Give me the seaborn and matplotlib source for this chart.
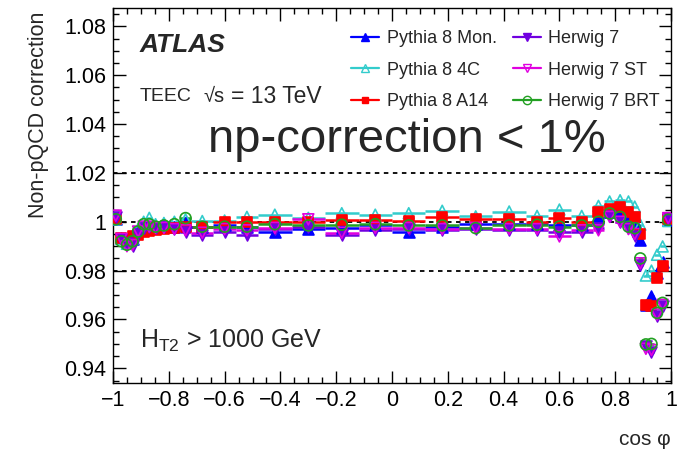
import numpy as np
import pandas as pd
import matplotlib
matplotlib.use("Agg")
import matplotlib.pyplot as plt
import seaborn as sns
from matplotlib.ticker import MultipleLocator, FuncFormatter
from matplotlib.lines import Line2D

# ---- data -------------------------------------------------------------
bin_edges = [-1.0, -0.98, -0.96, -0.94, -0.92, -0.90, -0.88, -0.86, -0.835, -0.80,
             -0.76, -0.72, -0.64, -0.56, -0.48, -0.36, -0.24, -0.12, 0.0,
             0.12, 0.24, 0.36, 0.48, 0.56, 0.64, 0.72, 0.76, 0.80, 0.835,
             0.86, 0.88, 0.90, 0.92, 0.94, 0.96, 0.98, 1.0]

pythia8_mon = [1.001, 0.9935, 0.992, 0.993, 0.9965, 0.997, 0.998, 0.998, 0.9985, 0.998, 1.0,
               0.998, 0.9985, 0.998, 0.996, 0.997, 0.9974, 0.9985, 0.996, 0.998, 0.999, 0.999,
               0.999, 0.9985, 0.9985, 1.0015, 1.004, 1.0042, 1.002, 1.0, 0.9927, 0.966, 0.9698,
               0.979, 0.9834, 1.0008]
pythia8_4c = [1.001, 0.993, 0.991, 0.993, 0.997, 1.000, 1.0016, 0.999, 0.9995, 1.000, 1.001,
              1.0003, 1.0005, 1.002, 1.0029, 1.0016, 1.0035, 1.0029, 1.0035, 1.0045, 1.0022,
              1.0042, 1.0024, 1.005, 1.0024, 1.0065, 1.0083, 1.0088, 1.0083, 1.0062, 0.9988,
              0.978, 0.980, 0.9865, 0.9899, 1.0003]
pythia8_a14 = [1.001, 0.9933, 0.9927, 0.994, 0.9947, 0.996, 0.9963, 0.9967, 0.997, 0.9974, 0.9977,
               0.9977, 0.9997, 0.9997, 1.0001, 0.9997, 1.0008, 1.0008, 1.0005, 1.0019, 1.0012,
               1.0012, 1.0001, 1.0015, 0.9997, 1.0042, 1.0054, 1.0062, 1.0038, 1.0019, 0.995,
               0.966, 0.9655, 0.977, 0.9818, 1.001]
herwig7 = [1.002, 0.993, 0.9915, 0.990, 0.995, 0.9975, 0.998, 0.9975, 0.998, 0.997, 0.996,
           0.9947, 0.996, 0.9947, 0.997, 0.998, 0.9947, 0.9967, 0.997, 0.9965, 0.997, 0.9967,
           0.9967, 0.996, 0.996, 0.9975, 1.0022, 1.0001, 0.9974, 0.994, 0.9824, 0.9491, 0.9467,
           0.9614, 0.9655, 1.001]
herwig7_st = [1.0025, 0.993, 0.990, 0.9905, 0.996, 0.998, 0.998, 0.9975, 0.9975, 0.997, 0.9965,
              0.9955, 0.997, 0.9965, 0.9975, 1.001, 0.9955, 0.9975, 0.9975, 0.997, 0.9975, 0.997,
              0.997, 0.994, 0.9965, 0.9965, 1.002, 1.0, 0.997, 0.995, 0.983, 0.948, 0.9475,
              0.962, 0.966, 1.0015]
herwig7_brt = [1.001, 0.992, 0.9906, 0.992, 0.996, 0.999, 0.999, 0.998, 0.9985, 0.999, 1.0015,
               0.998, 0.998, 0.998, 0.999, 0.9985, 0.9988, 0.999, 0.9985, 0.9985, 0.9974, 0.9985,
               0.9988, 0.998, 0.9985, 1.0, 1.0034, 1.002, 0.998, 0.9974, 0.985, 0.9498, 0.950,
               0.9627, 0.9668, 1.0008]

labels = ["Pythia 8 Mon.", "Pythia 8 4C", "Pythia 8 A14",
          "Herwig 7", "Herwig 7 ST", "Herwig 7 BRT"]
series = [pythia8_mon, pythia8_4c, pythia8_a14, herwig7, herwig7_st, herwig7_brt]
ref_lines = [1.02, 1.0, 0.98]

# ---- styles -----------------------------------------------------------
colors = ["#0000ff", "#33cccc", "#ff0000", "#7000e0", "#e000e0", "#22a022"]
markers = ["^", "^", "s", "v", "v", "o"]
filled = [True, False, True, True, False, False]

sns.set_theme(style="ticks")
plt.rcParams["font.family"] = ["Liberation Sans", "DejaVu Sans"]
plt.rcParams["mathtext.fontset"] = "custom"
plt.rcParams["mathtext.rm"] = "Liberation Sans"
plt.rcParams["mathtext.default"] = "regular"

edges = np.array(bin_edges)
centers = 0.5 * (edges[:-1] + edges[1:])

rows = []
for lab, vals in zip(labels, series):
    for c, lo, hi, v in zip(centers, edges[:-1], edges[1:], vals):
        rows.append(dict(model=lab, x=c, lo=lo, hi=hi, y=v))
df = pd.DataFrame(rows)

fig = plt.figure(figsize=(6.88, 4.5), dpi=100)
ax = fig.add_axes([113 / 688, 1 - 383 / 450, 558 / 688, 375 / 450])

for yv in ref_lines:
    ax.axhline(yv, color="black", lw=1.3, ls=(0, (2.5, 2.5)), zorder=1)

draw_order = [3, 4, 5, 0, 1, 2]
for i in draw_order:
    lab = labels[i]
    sub = df[df.model == lab]
    ax.hlines(sub.y, sub.lo, sub.hi, color=colors[i], lw=1.8, zorder=2 + i * 0.1)
    kw = dict(facecolor=colors[i] if filled[i] else "none", edgecolor=colors[i], linewidth=1.2)
    sns.scatterplot(data=sub, x="x", y="y", ax=ax, marker=markers[i],
                    s=62 if markers[i] != "s" else 50, legend=False, zorder=3 + i * 0.1, **kw)

ax.set_xlim(-1, 1)
ax.set_ylim(0.934, 1.0875)
ax.xaxis.set_major_locator(MultipleLocator(0.2))
ax.xaxis.set_minor_locator(MultipleLocator(0.05))
ax.yaxis.set_major_locator(MultipleLocator(0.02))
ax.yaxis.set_minor_locator(MultipleLocator(0.005))

def fmt(v, pos):
    s = "%g" % round(v, 6)
    return s.replace("-", "\u2212")

ax.xaxis.set_major_formatter(FuncFormatter(fmt))
ax.yaxis.set_major_formatter(FuncFormatter(fmt))
ax.tick_params(which="both", direction="in", top=True, right=True, colors="black",
               labelsize=15.5, width=1.0)
ax.tick_params(which="major", length=9, pad=5)
ax.tick_params(which="minor", length=4.5)
for sp in ax.spines.values():
    sp.set_color("black")
    sp.set_linewidth(1.0)

ax.set_xlabel("cos \u03c6", fontsize=15, loc="right")
ax.set_ylabel("Non-pQCD correction", fontsize=15.5, loc="top")
ax.xaxis.set_label_coords(1.0, -0.125)
ax.yaxis.set_label_coords(-0.115, 0.99)

ax.text(0.048, 0.90, "ATLAS", transform=ax.transAxes, fontsize=19, fontweight="bold",
        fontstyle="italic", va="center", ha="left")
ax.text(0.048, 0.765, "TEEC", transform=ax.transAxes, fontsize=14, va="center", ha="left")
ax.text(0.163, 0.765, "\u221as", transform=ax.transAxes, fontsize=14.5,
        va="center", ha="left")
ax.text(0.212, 0.765, "= 13 TeV", transform=ax.transAxes, fontsize=16.5,
        va="center", ha="left")
ax.text(0.170, 0.648, "np-correction < 1%", transform=ax.transAxes, fontsize=34,
        va="center", ha="left")
ax.text(0.048, 0.112, r"H$_{T2}$ > 1000 GeV", transform=ax.transAxes, fontsize=18,
        va="center", ha="left")

handles = []
for i in range(6):
    handles.append(Line2D([0], [0], color=colors[i], lw=1.6, marker=markers[i],
                          markersize=6 if markers[i] != "s" else 5,
                          markerfacecolor=colors[i] if filled[i] else "none",
                          markeredgecolor=colors[i]))
leg = ax.legend(handles, labels, ncol=2, loc="upper left", bbox_to_anchor=(0.408, 0.970),
                frameon=False, fontsize=13, handlelength=1.55, handletextpad=0.4,
                labelspacing=0.8, columnspacing=0.9, borderaxespad=0.2)

fig.savefig("out.png", dpi=100)
